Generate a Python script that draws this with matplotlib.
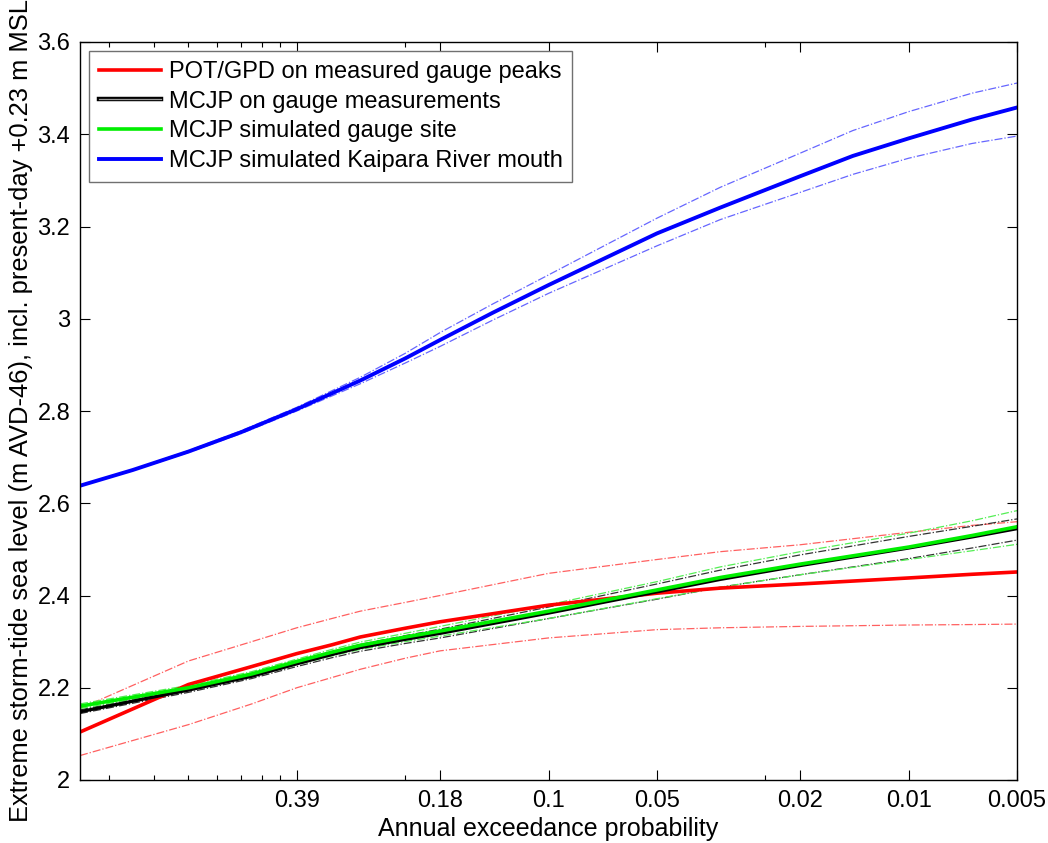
import matplotlib
matplotlib.use("Agg")
import matplotlib.pyplot as plt
from matplotlib.lines import Line2D
from matplotlib.ticker import FixedLocator, FixedFormatter, NullFormatter
import matplotlib.patheffects as pe

plt.rcParams['font.family'] = ['Liberation Sans', 'DejaVu Sans']

# Average recurrence interval (years) -> plotted on log axis; labels are AEP
ari = [0.5, 1, 1.5, 2, 2.5, 3, 4, 5, 10, 20, 30, 50, 100, 150, 200]

red_main = [2.104, 2.207, 2.246, 2.274, 2.293, 2.310, 2.329, 2.343, 2.379, 2.405, 2.416, 2.425, 2.438, 2.446, 2.451]
red_up   = [2.155, 2.258, 2.300, 2.330, 2.350, 2.366, 2.385, 2.400, 2.448, 2.478, 2.495, 2.510, 2.537, 2.552, 2.560]
red_lo   = [2.053, 2.120, 2.165, 2.200, 2.222, 2.240, 2.264, 2.280, 2.308, 2.326, 2.330, 2.333, 2.336, 2.337, 2.338]

blk_main = [2.148, 2.195, 2.225, 2.252, 2.272, 2.287, 2.305, 2.318, 2.362, 2.408, 2.435, 2.465, 2.503, 2.527, 2.545]
blk_up   = [2.152, 2.199, 2.230, 2.257, 2.278, 2.294, 2.313, 2.327, 2.375, 2.425, 2.455, 2.488, 2.528, 2.550, 2.566]
blk_lo   = [2.144, 2.190, 2.220, 2.246, 2.265, 2.279, 2.296, 2.308, 2.350, 2.392, 2.418, 2.445, 2.480, 2.503, 2.520]

grn_main = [2.160, 2.200, 2.230, 2.257, 2.277, 2.292, 2.310, 2.323, 2.366, 2.412, 2.439, 2.468, 2.505, 2.530, 2.549]
grn_up   = [2.165, 2.205, 2.235, 2.262, 2.283, 2.299, 2.318, 2.333, 2.380, 2.430, 2.462, 2.495, 2.535, 2.562, 2.584]
grn_lo   = [2.155, 2.195, 2.224, 2.250, 2.269, 2.283, 2.300, 2.312, 2.350, 2.393, 2.418, 2.445, 2.478, 2.497, 2.511]

ari_blue = [0.5, 0.7, 1, 1.4, 2, 3, 4, 5, 7, 10, 20, 30, 50, 70, 100, 150, 200]
blu_main = [2.638, 2.672, 2.712, 2.754, 2.804, 2.866, 2.914, 2.954, 3.013, 3.073, 3.185, 3.241, 3.309, 3.353, 3.391, 3.432, 3.458]
blu_up   = [2.639, 2.673, 2.714, 2.757, 2.808, 2.873, 2.925, 2.970, 3.032, 3.095, 3.218, 3.285, 3.359, 3.408, 3.449, 3.489, 3.511]
blu_lo   = [2.637, 2.671, 2.710, 2.751, 2.800, 2.859, 2.904, 2.940, 2.997, 3.055, 3.158, 3.215, 3.274, 3.313, 3.348, 3.380, 3.396]

major_ari = [2, 5, 10, 20, 50, 100, 200]
major_labels = ['0.39', '0.18', '0.1', '0.05', '0.02', '0.01', '0.005']
minor_ari = [0.6, 0.8, 1, 1.2, 1.4, 1.6, 1.8, 4, 40]
yticks = [2, 2.2, 2.4, 2.6, 2.8, 3, 3.2, 3.4, 3.6]
ytick_labels = ['2', '2.2', '2.4', '2.6', '2.8', '3', '3.2', '3.4', '3.6']

labels = ['POT/GPD on measured gauge peaks',
          'MCJP on gauge measurements',
          'MCJP simulated gauge site',
          'MCJP simulated Kaipara River mouth']

fig = plt.figure(figsize=(10.48, 8.43), dpi=100)
ax = fig.add_axes([80/1048, 1-780/843, (1017-80)/1048, (780-42)/843])
ax.set_xscale('log')

bw = 0.9
ax.plot(ari, red_up, '-.', color='#ff6060', lw=bw)
ax.plot(ari, red_lo, '-.', color='#ff6060', lw=bw)
ax.plot(ari, blk_up, '-.', color='#333333', lw=bw)
ax.plot(ari, blk_lo, '-.', color='#333333', lw=bw)
ax.plot(ari, grn_up, '-.', color='#55ee55', lw=bw)
ax.plot(ari, grn_lo, '-.', color='#55ee55', lw=bw)
ax.plot(ari_blue, blu_up, '-.', color='#6666ff', lw=bw)
ax.plot(ari_blue, blu_lo, '-.', color='#6666ff', lw=bw)

ax.plot(ari, red_main, '-', color='#ff0000', lw=2.6)
ax.plot(ari, blk_main, '-', color='#000000', lw=2.4)
ax.plot(ari, grn_main, '-', color='#00ee00', lw=2.6)
ax.plot(ari_blue, blu_main, '-', color='#0000ff', lw=2.8)

ax.set_xlim(0.5, 200)
ax.set_ylim(2, 3.6)

ax.xaxis.set_major_locator(FixedLocator(major_ari))
ax.xaxis.set_major_formatter(FixedFormatter(major_labels))
ax.xaxis.set_minor_locator(FixedLocator(minor_ari))
ax.xaxis.set_minor_formatter(NullFormatter())
ax.set_yticks(yticks)
ax.set_yticklabels(ytick_labels)

ax.tick_params(which='major', direction='in', length=7, width=0.8,
               top=True, right=True, labelsize=17, colors='black', pad=7)
ax.tick_params(which='minor', direction='in', length=3.5, width=0.8,
               top=True, right=True)
for s in ax.spines.values():
    s.set_linewidth(1.0)

ax.set_xlabel('Annual exceedance probability', fontsize=18, labelpad=4)
ax.set_ylabel('Extreme storm-tide sea level (m AVD-46), incl. present-day +0.23 m MSL',
              fontsize=18.4, labelpad=3)

handles = [
    Line2D([], [], color='#ff0000', lw=2.6),
    Line2D([], [], color='#000000', lw=2.6,
           path_effects=[pe.Stroke(linewidth=3.2, foreground='black'),
                         pe.Stroke(linewidth=0.9, foreground='#9a9a9a')]),
    Line2D([], [], color='#00ee00', lw=2.6),
    Line2D([], [], color='#0000ff', lw=2.8),
]
leg = ax.legend(handles, labels, loc='upper left', fontsize=17, frameon=True,
                fancybox=False, edgecolor='#707070', framealpha=1,
                handlelength=2.65, handletextpad=0.3, labelspacing=0.33,
                borderaxespad=0.4, borderpad=0.4)
leg.get_frame().set_linewidth(1.0)

fig.savefig('out.png', dpi=100)
